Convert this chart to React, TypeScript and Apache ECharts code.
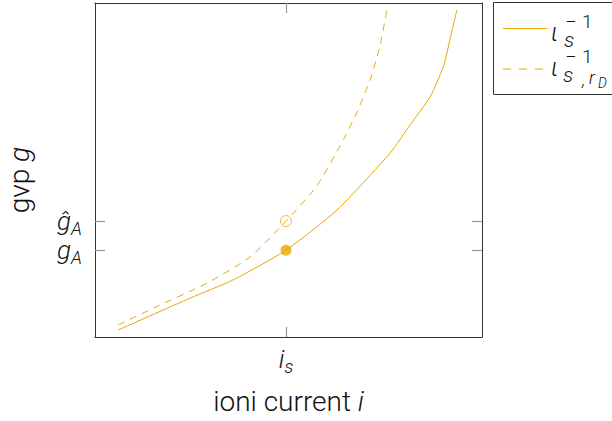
import React, { useEffect, useRef } from "react";
import * as echarts from "echarts";

// Data (arbitrary units, axes 0..100)
const solidX = [6.0, 24.5, 35.7, 49.35, 62.5, 76.2, 81.4, 86.6, 90.0, 91.7, 93.5];
const solidY = [2.1, 11.6, 17.1, 26.0, 38.0, 55.0, 63.5, 71.9, 80.9, 88.9, 97.9];
const dashX = [6.0, 15.9, 28.9, 40.1, 49.35, 57.3, 64.2, 67.6, 71.1, 73.6, 75.4];
const dashY = [3.6, 9.1, 16.1, 24.0, 34.7, 45.2, 59.1, 67.1, 77.0, 87.0, 97.9];
const xTicks = [49.35];
const yTicks = [26.0, 34.7];
const xTickLabels = ["{i|i}{s|s}"];
const yTickLabels = ["{i|g}{s|A}", "{i|ĝ}{s|A}"];

const COLOR = "#E6A800";
const FONT = "Roboto";
const W = 300;

export default function App() {
  const ref = useRef<HTMLDivElement>(null);
  useEffect(() => {
    if (!ref.current) return;
    const chart = echarts.init(ref.current, undefined, { renderer: "svg" });
    const richLabel = {
      i: { fontFamily: FONT, fontWeight: W, fontStyle: "italic", fontSize: 26, color: "#111", lineHeight: 32 },
      s: { fontFamily: FONT, fontWeight: W, fontStyle: "italic", fontSize: 18, color: "#111", lineHeight: 18, verticalAlign: "bottom" },
    };
    const axisLineStyle = { show: true, onZero: false, lineStyle: { color: "#333", width: 1 } };
    const tickStyle = { lineStyle: { color: "#999", width: 1.2 } };
    const nameStyle = {
      fontFamily: FONT, fontWeight: W, fontSize: 28, color: "#111",
      rich: { i: { fontFamily: FONT, fontWeight: W, fontStyle: "italic", fontSize: 28, color: "#111" } },
    };
    const txt = (x: number, y: number, text: string, size: number, italic: boolean) => ({
      type: "text", x, y,
      style: {
        text,
        font: `${italic ? "italic " : ""}${W} ${size}px ${FONT}`,
        fill: "#111",
        verticalAlign: "middle",
        lineHeight: Math.round(size * 0.75),
      },
    });
    chart.setOption({
      animation: false,
      textStyle: { fontFamily: FONT },
      grid: { left: 95, right: 130, top: 3, bottom: 84, outerBoundsMode: "none", containLabel: false },
      xAxis: [
        {
          type: "value", min: 0, max: 100, position: "bottom",
          axisLine: axisLineStyle,
          axisTick: { show: true, inside: true, length: 10, customValues: xTicks, ...tickStyle },
          axisLabel: {
            show: true, customValues: xTicks, margin: 6,
            formatter: (v: number) => xTickLabels[xTicks.indexOf(v)] ?? "",
            rich: richLabel,
          },
          splitLine: { show: false },
          name: "ioni current {i|i}",
          nameLocation: "middle",
          nameGap: 50,
          nameTextStyle: nameStyle,
        },
        {
          type: "value", min: 0, max: 100, position: "top",
          axisLine: axisLineStyle,
          axisTick: { show: true, inside: true, length: 10, customValues: xTicks, ...tickStyle },
          axisLabel: { show: false },
          splitLine: { show: false },
        },
      ],
      yAxis: [
        {
          type: "value", min: 0, max: 100, position: "left",
          axisLine: axisLineStyle,
          axisTick: { show: true, inside: true, length: 10, customValues: yTicks, ...tickStyle },
          axisLabel: {
            show: true, customValues: yTicks, margin: 13,
            formatter: (v: number) => yTickLabels[yTicks.indexOf(v)] ?? "",
            rich: richLabel,
          },
          splitLine: { show: false },
          name: "gvp {i|g}",
          nameLocation: "middle",
          nameGap: 62,
          nameRotate: 90,
          nameTextStyle: { ...nameStyle, padding: [0, 20, 0, 0] },
        },
        {
          type: "value", min: 0, max: 100, position: "right",
          axisLine: axisLineStyle,
          axisTick: { show: true, inside: true, length: 10, customValues: yTicks, ...tickStyle },
          axisLabel: { show: false },
          splitLine: { show: false },
        },
      ],
      series: [
        {
          type: "line", name: "solid", xAxisIndex: 0, yAxisIndex: 0,
          data: solidX.map((x, k) => [x, solidY[k]]),
          showSymbol: false, smooth: 0.2,
          lineStyle: { color: COLOR, width: 1 },
        },
        {
          type: "line", name: "dashed", xAxisIndex: 0, yAxisIndex: 0,
          data: dashX.map((x, k) => [x, dashY[k]]),
          showSymbol: false, smooth: 0.2,
          lineStyle: { color: COLOR, width: 1, type: [7, 6] },
        },
        {
          type: "scatter", xAxisIndex: 0, yAxisIndex: 0,
          data: [[xTicks[0], yTicks[0]]],
          symbolSize: 11,
          itemStyle: { color: COLOR },
        },
        {
          type: "scatter", xAxisIndex: 0, yAxisIndex: 0,
          data: [[xTicks[0], yTicks[1]]],
          symbolSize: 11,
          itemStyle: { color: "#fff", borderColor: COLOR, borderWidth: 1 },
        },
      ],
      graphic: [
        {
          type: "rect", x: 493.5, y: 2.5,
          shape: { x: 0, y: 0, width: 130, height: 92 },
          style: { fill: "#fff", stroke: "#333", lineWidth: 1 },
        },
        { type: "line", shape: { x1: 503, y1: 28.5, x2: 547, y2: 28.5 }, style: { stroke: COLOR, lineWidth: 1 } },
        { type: "line", shape: { x1: 503, y1: 69, x2: 547, y2: 69 }, style: { stroke: COLOR, lineWidth: 1, lineDash: [8, 8] } },
        txt(551, 32, "ι", 25, true),
        txt(564, 40, "s", 21, true),
        txt(565, 22, "−", 20, false),
        txt(582, 21, "1", 19, false),
        txt(551, 67, "ι", 25, true),
        txt(563, 75, "s", 21, true),
        txt(582, 79, ",", 18, true),
        txt(589, 77.5, "r", 18, true),
        txt(598, 83, "D", 14, true),
        txt(565, 57, "−", 20, false),
        txt(582, 56, "1", 19, false),
      ],
    });
    return () => chart.dispose();
  }, []);
  return (
    <div
      ref={ref}
      style={{ position: "absolute", left: 0, top: 0, width: 612, height: 421 }}
    />
  );
}
